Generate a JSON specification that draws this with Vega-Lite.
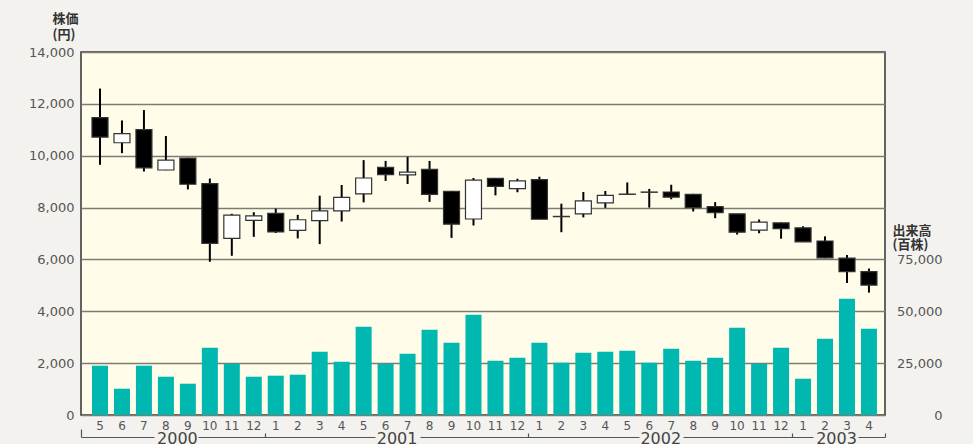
{
  "$schema": "https://vega.github.io/schema/vega-lite/v6.json",
  "width": 804,
  "height": 363,
  "autosize": {"type": "none"},
  "padding": {"left": 81, "top": 52, "right": 88, "bottom": 29},
  "background": "#F3F2EE",
  "config": {
    "view": {"fill": "#FFFCE9", "stroke": "#333333", "strokeWidth": 1.5},
    "axis": {"labelFont": "DejaVu Sans", "titleFont": "Noto Sans CJK JP"}
  },
  "datasets": {
    "px": [
      {"ym": "2000-05", "open": 11470, "high": 12590, "low": 9650, "close": 10720, "vol": 23770},
      {"ym": "2000-06", "open": 10500, "high": 11360, "low": 10100, "close": 10850, "vol": 12680},
      {"ym": "2000-07", "open": 11010, "high": 11760, "low": 9390, "close": 9530, "vol": 23770},
      {"ym": "2000-08", "open": 9450, "high": 10760, "low": 9440, "close": 9830, "vol": 18460},
      {"ym": "2000-09", "open": 9910, "high": 9920, "low": 8700, "close": 8900, "vol": 15090},
      {"ym": "2000-10", "open": 8920, "high": 9120, "low": 5910, "close": 6620, "vol": 32450},
      {"ym": "2000-11", "open": 6810, "high": 7760, "low": 6140, "close": 7710, "vol": 24730},
      {"ym": "2000-12", "open": 7510, "high": 7820, "low": 6870, "close": 7680, "vol": 18460},
      {"ym": "2001-01", "open": 7780, "high": 7960, "low": 7020, "close": 7060, "vol": 18950},
      {"ym": "2001-02", "open": 7120, "high": 7720, "low": 6810, "close": 7530, "vol": 19430},
      {"ym": "2001-03", "open": 7500, "high": 8460, "low": 6590, "close": 7870, "vol": 30520},
      {"ym": "2001-04", "open": 7870, "high": 8870, "low": 7460, "close": 8390, "vol": 25700},
      {"ym": "2001-05", "open": 8530, "high": 9830, "low": 8200, "close": 9140, "vol": 42570},
      {"ym": "2001-06", "open": 9550, "high": 9800, "low": 9030, "close": 9270, "vol": 24730},
      {"ym": "2001-07", "open": 9260, "high": 9960, "low": 8910, "close": 9370, "vol": 29550},
      {"ym": "2001-08", "open": 9470, "high": 9800, "low": 8220, "close": 8510, "vol": 41120},
      {"ym": "2001-09", "open": 8630, "high": 8640, "low": 6830, "close": 7360, "vol": 34860},
      {"ym": "2001-10", "open": 7560, "high": 9140, "low": 7310, "close": 9060, "vol": 48360},
      {"ym": "2001-11", "open": 9130, "high": 9140, "low": 8470, "close": 8820, "vol": 26180},
      {"ym": "2001-12", "open": 8730, "high": 9110, "low": 8590, "close": 9030, "vol": 27620},
      {"ym": "2002-01", "open": 9080, "high": 9190, "low": 7550, "close": 7550, "vol": 34860},
      {"ym": "2002-02", "open": 7660, "high": 8150, "low": 7050, "close": 7650, "vol": 25210},
      {"ym": "2002-03", "open": 7760, "high": 8600, "low": 7620, "close": 8260, "vol": 30030},
      {"ym": "2002-04", "open": 8180, "high": 8640, "low": 7990, "close": 8470, "vol": 30520},
      {"ym": "2002-05", "open": 8520, "high": 8970, "low": 8490, "close": 8510, "vol": 31000},
      {"ym": "2002-06", "open": 8600, "high": 8720, "low": 8000, "close": 8590, "vol": 25210},
      {"ym": "2002-07", "open": 8600, "high": 8880, "low": 8320, "close": 8400, "vol": 31960},
      {"ym": "2002-08", "open": 8510, "high": 8530, "low": 7850, "close": 8000, "vol": 26180},
      {"ym": "2002-09", "open": 8040, "high": 8210, "low": 7590, "close": 7800, "vol": 27620},
      {"ym": "2002-10", "open": 7760, "high": 7760, "low": 6960, "close": 7050, "vol": 42090},
      {"ym": "2002-11", "open": 7130, "high": 7540, "low": 7010, "close": 7440, "vol": 24730},
      {"ym": "2002-12", "open": 7410, "high": 7420, "low": 6800, "close": 7190, "vol": 32450},
      {"ym": "2003-01", "open": 7220, "high": 7280, "low": 6680, "close": 6680, "vol": 17500},
      {"ym": "2003-02", "open": 6710, "high": 6890, "low": 6050, "close": 6060, "vol": 36780},
      {"ym": "2003-03", "open": 6050, "high": 6170, "low": 5090, "close": 5530, "vol": 56070},
      {"ym": "2003-04", "open": 5530, "high": 5650, "low": 4720, "close": 5010, "vol": 41610}
    ],
    "yrs": [
      {"yr": "2000", "m": 4},
      {"yr": "2001", "m": 14},
      {"yr": "2002", "m": 26},
      {"yr": "2003", "m": 34}
    ]
  },
  "layer": [
    {
      "data": {"name": "px"},
      "mark": {"type": "bar", "color": "#00B8AF"},
      "encoding": {
        "x": {
          "field": "ym", "type": "ordinal",
          "scale": {"paddingInner": 0.2717, "paddingOuter": 0.4334, "align": 0.5774},
          "axis": {
            "orient": "bottom", "title": null, "labelAngle": 0,
            "labelExpr": "toNumber(slice(datum.value, 5))",
            "ticks": false, "domain": false, "grid": false,
            "labelPadding": 5, "labelFontSize": 12, "labelColor": "#555555"
          }
        },
        "y": {
          "field": "vol", "type": "quantitative",
          "scale": {"domain": [0, 175000], "nice": false},
          "axis": {
            "orient": "right", "values": [0, 25000, 50000, 75000], "format": ",.0f",
            "grid": false, "domain": false, "ticks": false, "labelFlush": false,
            "labelAlign": "right", "labelPadding": 57, "labelFontSize": 13, "labelColor": "#555555",
            "title": ["出来高", "(百株)"], "titleAngle": 0, "titleAlign": "left", "titleBaseline": "top",
            "titleX": 7, "titleY": 172, "titleFontSize": 13, "titleFontWeight": "bold",
            "titleColor": "#333333", "titleLineHeight": 14
          }
        }
      }
    },
    {
      "data": {"name": "px"},
      "mark": {"type": "rule", "color": "#000000", "strokeWidth": 2},
      "encoding": {
        "x": {
          "field": "ym", "type": "ordinal",
          "scale": {"paddingInner": 0.2717, "paddingOuter": 0.4334, "align": 0.5774},
          "axis": null
        },
        "y": {"field": "low", "type": "quantitative", "scale": {"domain": [0, 14000], "nice": false}, "axis": null},
        "y2": {"field": "high"}
      }
    },
    {
      "data": {"name": "px"},
      "mark": {"type": "bar", "stroke": "#333333", "strokeWidth": 1.2},
      "encoding": {
        "x": {
          "field": "ym", "type": "ordinal",
          "scale": {"paddingInner": 0.2717, "paddingOuter": 0.4334, "align": 0.5774},
          "axis": null
        },
        "y": {
          "field": "open", "type": "quantitative",
          "scale": {"domain": [0, 14000], "nice": false},
          "axis": {
            "orient": "left", "values": [0, 2000, 4000, 6000, 8000, 10000, 12000, 14000], "format": ",.0f",
            "grid": true, "gridColor": "#7D7B73", "gridWidth": 1.5,
            "domain": false, "ticks": false, "labelFlush": false,
            "labelPadding": 7, "labelFontSize": 13, "labelColor": "#555555",
            "title": ["株価", "(円)"], "titleAngle": 0, "titleAlign": "left", "titleBaseline": "top",
            "titleX": -29, "titleY": -40, "titleFontSize": 13, "titleFontWeight": "bold",
            "titleColor": "#333333", "titleLineHeight": 16
          }
        },
        "y2": {"field": "close"},
        "color": {"condition": {"test": "datum.close < datum.open", "value": "#000000"}, "value": "#FFFFFF"}
      }
    },
    {
      "data": {"name": "yrs"},
      "mark": {"type": "point", "opacity": 0},
      "encoding": {
        "x": {
          "field": "m", "type": "quantitative",
          "scale": {"domain": [-0.364, 36.23], "nice": false, "zero": false},
          "axis": {
            "orient": "bottom", "offset": 22, "title": null, "grid": false,
            "values": [-0.364, 4, 8, 14, 20, 26, 32, 34, 36.23],
            "labelExpr": "datum.value == 4 ? '2000' : datum.value == 14 ? '2001' : datum.value == 26 ? '2002' : datum.value == 34 ? '2003' : ''",
            "domain": true, "domainColor": "#555555", "domainWidth": 1.2,
            "domainDash": [73, 44, 177, 45, 219, 44, 130, 45, 40],
            "ticks": true, "tickColor": "#555555", "tickWidth": 1.2,
            "tickSize": {"condition": {"test": "datum.value < 0", "value": -8}, "value": -4},
            "tickOpacity": {"condition": {"test": "datum.value == 4 || datum.value == 14 || datum.value == 26 || datum.value == 34", "value": 0}, "value": 1},
            "labelFontSize": 16, "labelColor": "#444444", "labelBaseline": "middle",
            "labelPadding": 5, "labelOverlap": false, "labelFlush": false
          }
        }
      }
    }
  ],
  "resolve": {"scale": {"x": "independent", "y": "independent"}}
}
